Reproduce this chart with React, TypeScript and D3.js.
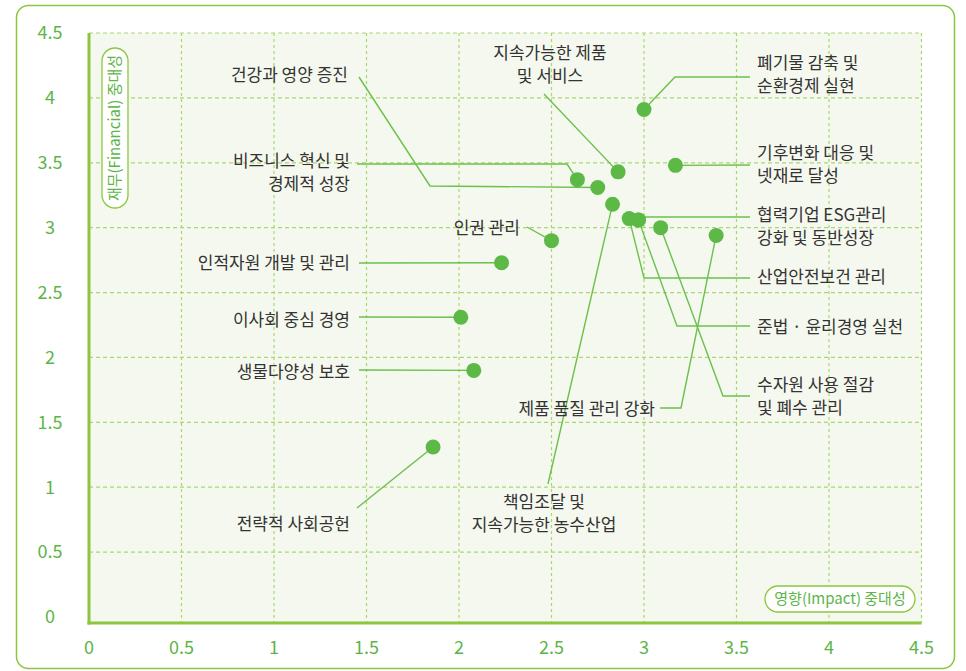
import React, { useEffect, useRef } from 'react';
import * as d3 from 'd3';

// 중대성 평가 항목
const issueNames = [
  '건강과 영양 증진',
  '비즈니스 혁신 및 경제적 성장',
  '지속가능한 제품 및 서비스',
  '폐기물 감축 및 순환경제 실현',
  '기후변화 대응 및 넷재로 달성',
  '협력기업 ESG관리 강화 및 동반성장',
  '산업안전보건 관리',
  '준법·윤리경영 실천',
  '수자원 사용 절감 및 폐수 관리',
  '제품 품질 관리 강화',
  '인권 관리',
  '인적자원 개발 및 관리',
  '이사회 중심 경영',
  '생물다양성 보호',
  '전략적 사회공헌',
  '책임조달 및 지속가능한 농수산업',
];

// 영향(Impact) 중대성 (x)
const impactValues = [2.75, 2.64, 2.86, 3.0, 3.17, 2.97, 2.92, 2.97, 3.09, 3.39, 2.5, 2.23, 2.01, 2.08, 1.86, 2.83];
// 재무(Financial) 중대성 (y)
const financialValues = [3.31, 3.37, 3.43, 3.91, 3.48, 3.06, 3.07, 3.06, 3.0, 2.94, 2.9, 2.73, 2.31, 1.9, 1.31, 3.18];

const tickValues = [0, 0.5, 1, 1.5, 2, 2.5, 3, 3.5, 4, 4.5];

// label layout (pixels): text lines, anchor, position, leader path up to the point
type LabelLayout = {
  lines: string[];
  anchor: 'start' | 'end' | 'middle';
  x: number;
  y: number;
  leader: [number, number][];
};

const labelLayout: LabelLayout[] = [
  { lines: ['건강과 영양 증진'], anchor: 'end', x: 348, y: 75, leader: [[359, 77], [430, 186]] },
  { lines: ['비즈니스 혁신 및', '경제적 성장'], anchor: 'end', x: 350, y: 161, leader: [[357, 164], [567, 164]] },
  { lines: ['지속가능한 제품', '및 서비스'], anchor: 'middle', x: 550, y: 53, leader: [[544, 94]] },
  { lines: ['폐기물 감축 및', '순환경제 실현'], anchor: 'start', x: 757, y: 63, leader: [[750, 77], [675, 77]] },
  { lines: ['기후변화 대응 및', '넷재로 달성'], anchor: 'start', x: 757, y: 153, leader: [[750, 165]] },
  { lines: ['협력기업 ESG관리', '강화 및 동반성장'], anchor: 'start', x: 757, y: 215, leader: [[750, 217], [642, 217]] },
  { lines: ['산업안전보건 관리'], anchor: 'start', x: 757, y: 277, leader: [[750, 278], [644, 278]] },
  { lines: ['준법 · 윤리경영 실천'], anchor: 'start', x: 757, y: 327, leader: [[750, 326], [677, 326]] },
  { lines: ['수자원 사용 절감', '및 폐수 관리'], anchor: 'start', x: 757, y: 385, leader: [[750, 396], [723, 396]] },
  { lines: ['제품 품질 관리 강화'], anchor: 'end', x: 655, y: 409, leader: [[660, 408], [681, 408]] },
  { lines: ['인권 관리'], anchor: 'end', x: 520, y: 228, leader: [[527, 227]] },
  { lines: ['인적자원 개발 및 관리'], anchor: 'end', x: 350, y: 263, leader: [[359, 263]] },
  { lines: ['이사회 중심 경영'], anchor: 'end', x: 350, y: 320, leader: [[359, 317]] },
  { lines: ['생물다양성 보호'], anchor: 'end', x: 350, y: 372, leader: [[359, 370]] },
  { lines: ['전략적 사회공헌'], anchor: 'end', x: 350, y: 524, leader: [[357, 508]] },
  { lines: ['책임조달 및', '지속가능한 농수산업'], anchor: 'middle', x: 544, y: 502, leader: [[548, 484]] },
];

const WIDTH = 966;
const HEIGHT = 671;
const FONT = '"Noto Sans CJK KR", "Noto Sans", sans-serif';
const GREEN = '#8cc63f';
const TICK_GREEN = '#5db547';
const DOT = '#5cb946';
const LEADER = '#6cc04c';
const GRID = '#a9d873';

const App: React.FC = () => {
  const svgRef = useRef<SVGSVGElement>(null);

  useEffect(() => {
    document.body.style.margin = '0';
    if (!svgRef.current) return;
    const svg = d3.select(svgRef.current);
    svg.selectAll('*').remove();

    const x = d3.scaleLinear().domain([0, 4.5]).range([89, 921.5]);
    const y = d3.scaleLinear().domain([0, 4.5]).range([617, 33]);
    const plotBottom = 623;

    // outer frame
    svg.append('rect')
      .attr('x', 16.5).attr('y', 5.5)
      .attr('width', 938).attr('height', 663)
      .attr('rx', 12)
      .attr('fill', 'white')
      .attr('stroke', GREEN)
      .attr('stroke-width', 1.5);

    // plot background
    svg.append('rect')
      .attr('x', x(0)).attr('y', y(4.5))
      .attr('width', x(4.5) - x(0))
      .attr('height', plotBottom - y(4.5))
      .attr('fill', '#f5f8ee');

    // grid
    const grid = svg.append('g');
    grid.selectAll('.hgrid')
      .data(tickValues.filter(t => t > 0))
      .enter().append('line')
      .attr('x1', x(0)).attr('x2', x(4.5))
      .attr('y1', d => y(d)).attr('y2', d => y(d))
      .attr('stroke', GRID)
      .attr('stroke-width', 1.2)
      .attr('stroke-dasharray', '4,3');
    grid.selectAll('.vgrid')
      .data(tickValues.filter(t => t > 0))
      .enter().append('line')
      .attr('x1', d => x(d)).attr('x2', d => x(d))
      .attr('y1', y(4.5)).attr('y2', plotBottom)
      .attr('stroke', GRID)
      .attr('stroke-width', 1.2)
      .attr('stroke-dasharray', '3,3');

    // axis lines
    svg.append('line')
      .attr('x1', x(0)).attr('x2', x(0))
      .attr('y1', y(4.5)).attr('y2', plotBottom + 1.5)
      .attr('stroke', GREEN).attr('stroke-width', 3);
    svg.append('line')
      .attr('x1', x(0) - 1.5).attr('x2', x(4.5))
      .attr('y1', plotBottom).attr('y2', plotBottom)
      .attr('stroke', GREEN).attr('stroke-width', 3);

    // tick labels
    svg.append('g').selectAll('text')
      .data(tickValues)
      .enter().append('text')
      .attr('x', 50)
      .attr('y', d => y(d))
      .attr('dy', '0.35em')
      .attr('text-anchor', 'middle')
      .style('font-family', FONT)
      .style('font-size', '18px')
      .style('fill', TICK_GREEN)
      .text(d => String(d));

    svg.append('g').selectAll('text')
      .data(tickValues)
      .enter().append('text')
      .attr('x', d => x(d))
      .attr('y', 648)
      .attr('dy', '0.35em')
      .attr('text-anchor', 'middle')
      .style('font-family', FONT)
      .style('font-size', '18px')
      .style('fill', TICK_GREEN)
      .text(d => String(d));

    // axis title pills
    const yPill = svg.append('g').attr('transform', 'translate(115,128) rotate(-90)');
    yPill.append('rect')
      .attr('x', -80).attr('y', -13)
      .attr('width', 160).attr('height', 26)
      .attr('rx', 13)
      .attr('fill', 'white')
      .attr('stroke', GREEN).attr('stroke-width', 1.3);
    yPill.append('text')
      .attr('text-anchor', 'middle')
      .attr('dy', '0.35em')
      .style('font-family', FONT)
      .style('font-size', '15px')
      .style('fill', TICK_GREEN)
      .text('재무(Financial) 중대성');

    const xPill = svg.append('g').attr('transform', 'translate(840,599)');
    xPill.append('rect')
      .attr('x', -75).attr('y', -13)
      .attr('width', 150).attr('height', 26)
      .attr('rx', 13)
      .attr('fill', 'white')
      .attr('stroke', GREEN).attr('stroke-width', 1.3);
    xPill.append('text')
      .attr('text-anchor', 'middle')
      .attr('dy', '0.35em')
      .style('font-family', FONT)
      .style('font-size', '15px')
      .style('fill', TICK_GREEN)
      .text('영향(Impact) 중대성');

    const items = issueNames.map((name, i) => ({
      name,
      impact: impactValues[i],
      financial: financialValues[i],
      layout: labelLayout[i],
    }));

    // leader lines
    const line = d3.line<[number, number]>();
    svg.append('g').selectAll('path')
      .data(items)
      .enter().append('path')
      .attr('d', d => line([...d.layout.leader, [x(d.impact), y(d.financial)]]))
      .attr('fill', 'none')
      .attr('stroke', LEADER)
      .attr('stroke-width', 1.4);

    // points
    svg.append('g').selectAll('circle')
      .data(items)
      .enter().append('circle')
      .attr('cx', d => x(d.impact))
      .attr('cy', d => y(d.financial))
      .attr('r', 7.5)
      .attr('fill', DOT);

    // labels
    const labels = svg.append('g').selectAll('text')
      .data(items)
      .enter().append('text')
      .attr('text-anchor', d => d.layout.anchor)
      .style('font-family', FONT)
      .style('font-size', '17px')
      .style('fill', '#333333');
    labels.selectAll('tspan')
      .data(d => d.layout.lines.map((t, j) => ({ t, j, l: d.layout })))
      .enter().append('tspan')
      .attr('x', d => d.l.x)
      .attr('y', d => d.l.y + d.j * 23)
      .attr('dy', '0.35em')
      .text(d => d.t);
  }, []);

  return <svg ref={svgRef} width={WIDTH} height={HEIGHT} style={{ display: 'block' }} />;
};

export default App;
